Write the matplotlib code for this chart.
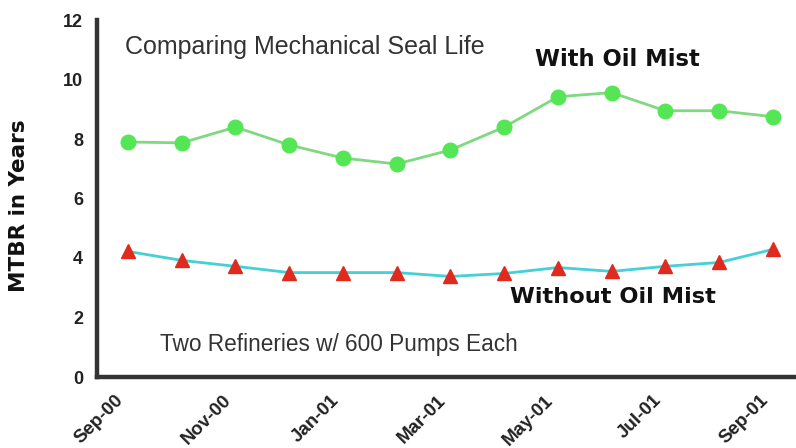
import matplotlib
matplotlib.use("Agg")
import matplotlib.pyplot as plt
from matplotlib.transforms import ScaledTranslation

months = ["Sep-00", "Oct-00", "Nov-00", "Dec-00", "Jan-01", "Feb-01", "Mar-01",
          "Apr-01", "May-01", "Jun-01", "Jul-01", "Aug-01", "Sep-01"]
with_mist = [7.9, 7.87, 8.4, 7.8, 7.36, 7.16, 7.63, 8.4, 9.42, 9.56, 8.95, 8.95, 8.75]
without_mist = [4.22, 3.92, 3.72, 3.51, 3.51, 3.51, 3.38, 3.48, 3.68, 3.55, 3.72, 3.85, 4.29]
tick_labels = ["Sep-00", "Nov-00", "Jan-01", "Mar-01", "May-01", "Jul-01", "Sep-01"]

plt.rcParams['font.family'] = ['Liberation Sans', 'DejaVu Sans']

fig = plt.figure(figsize=(7.96, 4.48), dpi=100)
ax = fig.add_axes([97/796, 1 - 377/448, 1 - 97/796, (377 - 20)/448])

x = list(range(len(months)))
ax.plot(x, with_mist, color='#80d880', lw=2, marker='o', ms=10.5,
        markerfacecolor='#55e655', markeredgecolor='#55e655', zorder=3)
ax.plot(x, without_mist, color='#45cfd6', lw=2, marker='^', ms=10.5,
        markerfacecolor='#e02a1e', markeredgecolor='#e02a1e', zorder=3)

ax.set_ylim(0, 12)
ax.set_xlim(-0.577, 12.43)
ax.set_yticks(range(0, 13, 2))
ax.set_yticklabels([str(v) for v in range(0, 13, 2)], fontsize=13, fontweight='bold',
                   color='#222222')
ax.set_xticks(x[::2])
ax.set_xticklabels(tick_labels, rotation=45, ha='right', va='center',
                   rotation_mode='anchor', fontsize=13.5, fontweight='bold',
                   color='#222222')
ax.tick_params(axis='y', length=0, pad=10)
ax.tick_params(axis='x', length=0, pad=15)
offset = ScaledTranslation(-7/100, 0, fig.dpi_scale_trans)
for lbl in ax.get_xticklabels():
    lbl.set_transform(lbl.get_transform() + offset)

for s in ['top', 'right']:
    ax.spines[s].set_visible(False)
for s in ['left', 'bottom']:
    ax.spines[s].set_linewidth(3.2)
    ax.spines[s].set_color('#333333')

ax.set_ylabel("MTBR in Years", fontsize=15.5, fontweight='bold', family='DejaVu Sans',
              color='#111111')
ax.yaxis.set_label_coords(-0.097, 0.48)

ax.text(-0.06, 11.1, "Comparing Mechanical Seal Life", fontsize=18, color='#333333',
        va='center', ha='left')
ax.text(7.57, 10.67, "With Oil Mist", fontsize=16.3, fontweight='bold', family='DejaVu Sans',
        color='#111111', va='center', ha='left')
ax.text(7.1, 2.7, "Without Oil Mist", fontsize=16.2, fontweight='bold', family='DejaVu Sans',
        color='#111111', va='center', ha='left')
ax.text(0.6, 1.08, "Two Refineries w/ 600 Pumps Each", fontsize=16.3, color='#333333',
        va='center', ha='left')

fig.savefig("out.png", dpi=100)
